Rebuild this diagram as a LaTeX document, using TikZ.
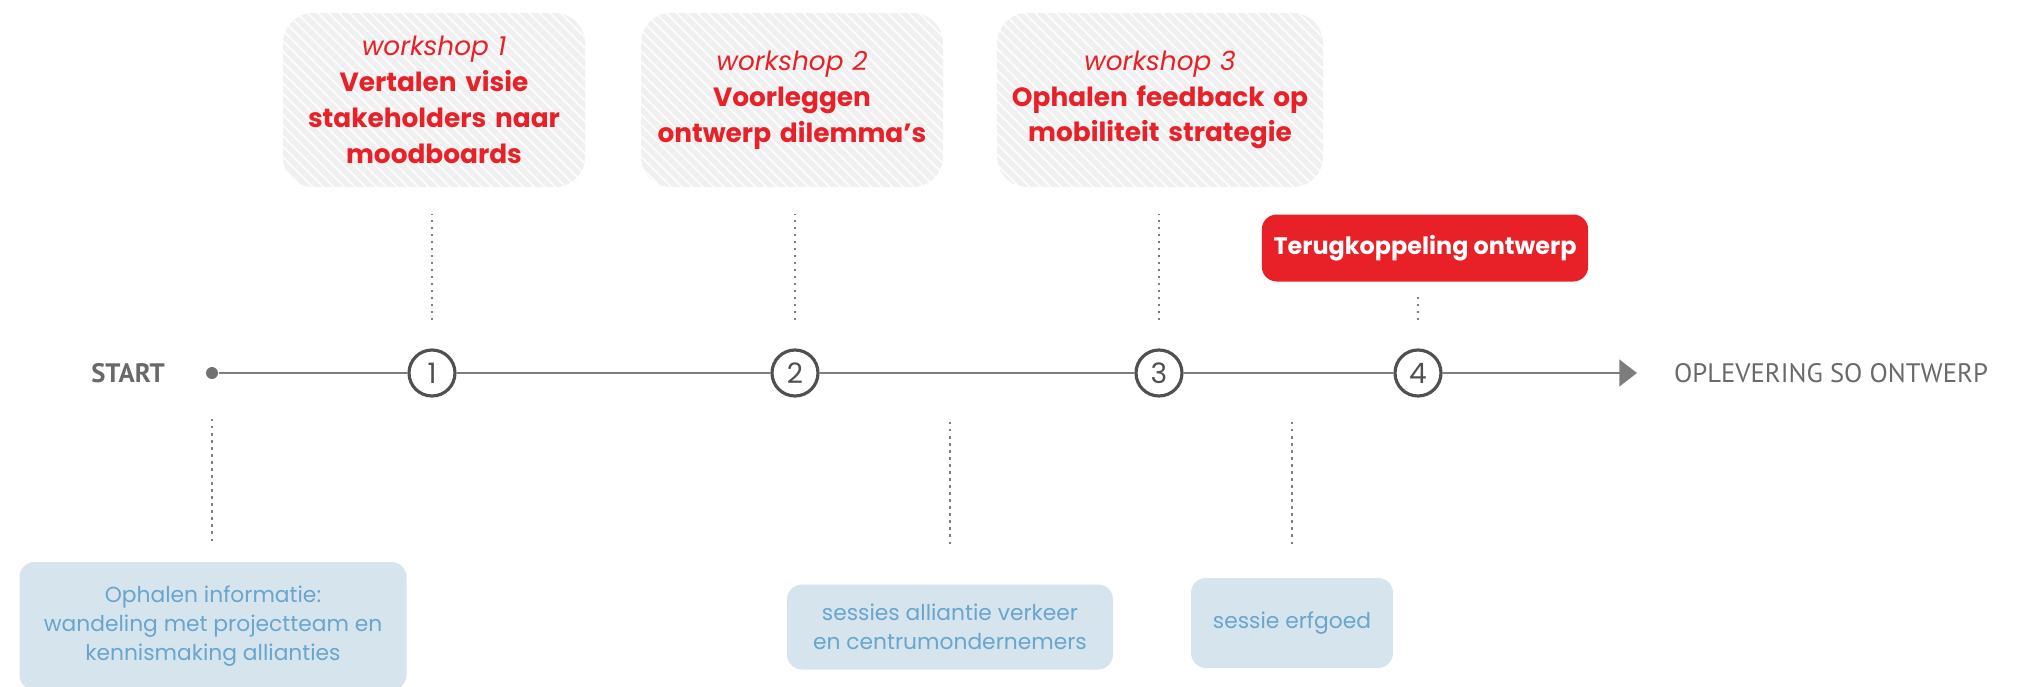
\documentclass[tikz,border=0pt]{standalone}
\usepackage{fontspec}
\setmainfont{Poppins}
\newfontfamily\labelfont{PT Sans}
\usepackage{tikz}
\usetikzlibrary{calc}
\usetikzlibrary{positioning}
\usetikzlibrary{arrows.meta}
\usetikzlibrary{patterns}

\definecolor{wsred}{RGB}{232,32,40}
\definecolor{linegray}{RGB}{125,125,125}
\definecolor{circgray}{RGB}{80,80,80}
\definecolor{txtgray}{RGB}{105,105,105}
\definecolor{boxblue}{RGB}{214,228,237}
\definecolor{txtblue}{RGB}{105,165,204}
\definecolor{hatchgray}{RGB}{240,240,240}

\begin{document}
\begin{tikzpicture}[
    wsbox/.style={rounded corners=0.3cm, preaction={fill=hatchgray}, pattern=north west lines, pattern color=white,
      inner xsep=0.08cm, minimum height=1.74cm, align=center, text=wsred, font=\fontsize{7.5}{10.2}\selectfont\bfseries},
    redbox/.style={rounded corners=0.15cm, fill=wsred, text=white, minimum width=3.25cm, minimum height=0.67cm,
      font=\fontsize{6.8}{10}\selectfont\bfseries},
    bluebox/.style={rounded corners=0.15cm, fill=boxblue, text=txtblue, align=center,
      font=\fontsize{6.2}{8.3}\selectfont},
    stepnum/.style={circle, draw=circgray, line width=0.9pt, fill=white, minimum size=0.46cm, inner sep=0pt,
      text=circgray, font=\fontsize{8}{8}\selectfont},
    endlabel/.style={text=txtgray, font=\labelfont\fontsize{7.6}{8}\selectfont},
    tline/.style={linegray, line width=0.85pt},
    dotline/.style={linegray, line width=0.7pt, dash pattern=on 0.7pt off 1.3pt}
  ]
    \useasboundingbox (0,0) rectangle (20.2,6.86);

    % timeline
    \node[endlabel, font=\labelfont\bfseries\fontsize{7.6}{8}\selectfont] (start) at (1.28,3.13) {START};
    \node[circle, fill=linegray!90!black, minimum size=0.12cm, inner sep=0pt] (dot) at (2.12,3.13) {};
    \node[stepnum] (c1) at (4.32,3.13) {1};
    \node[stepnum] (c2) at (7.95,3.13) {2};
    \node[stepnum] (c3) at (11.59,3.13) {3};
    \node[stepnum] (c4) at (14.18,3.13) {4};
    \coordinate (end) at (16.37,3.13);
    \node[endlabel] (oplevering) at (18.31,3.13) {OPLEVERING SO ONTWERP};

    \draw[tline] (dot) -- (c1) (c1) -- (c2) (c2) -- (c3) (c3) -- (c4);
    \draw[tline, -{Triangle[length=5pt,width=7.5pt]}] (c4) -- (end);

    % workshops
    \node[wsbox, minimum width=3.02cm, text width=2.86cm] (w1) at (4.34,5.86)
      {{\mdseries\itshape workshop 1}\\Vertalen visie\\stakeholders naar\\moodboards};
    \node[wsbox, minimum width=3.02cm, text width=2.86cm] (w2) at (7.92,5.86)
      {{\mdseries\itshape workshop 2}\\Voorleggen\\ontwerp dilemma's\\[10pt]};
    \node[wsbox, minimum width=3.26cm, text width=3.1cm] (w3) at (11.60,5.86)
      {{\mdseries\itshape workshop 3}\\Ophalen feedback op\\mobiliteit strategie\\[10pt]};
    \node[redbox] (terug) at (14.25,4.38) {Terugkoppeling ontwerp};

    % sessies
    \node[bluebox, minimum width=3.87cm, minimum height=1.28cm] (ia) at (2.13,0.60)
      {Ophalen informatie:\\wandeling met projectteam en\\kennismaking allianties};
    \node[bluebox, minimum width=3.26cm, minimum height=0.85cm] (sb) at (9.50,0.59)
      {sessies alliantie verkeer\\en centrumondernemers};
    \node[bluebox, minimum width=2.02cm, minimum height=0.90cm] (sc) at (12.92,0.63)
      {sessie erfgoed};

    % dotted connectors
    \draw[dotline] ($(c1.north)+(0,0.28)$) -- ($(c1.north |- w1.south)+(0,-0.26)$);
    \draw[dotline] ($(c2.north)+(0,0.28)$) -- ($(c2.north |- w2.south)+(0,-0.26)$);
    \draw[dotline] ($(c3.north)+(0,0.28)$) -- ($(c3.north |- w3.south)+(0,-0.26)$);
    \draw[dotline] ($(c4.north)+(0,0.28)$) -- ($(c4.north |- terug.south)+(0,-0.15)$);
    \draw[dotline] ($(dot)+(0,-0.46)$) -- ($(dot |- ia.north)+(0,0.17)$);
    \draw[dotline] ($(sb.north |- c2)+(0,-0.49)$) -- ($(sb.north)+(0,0.40)$);
    \draw[dotline] ($(sc.north |- c3)+(0,-0.49)$) -- ($(sc.north)+(0,0.33)$);
  \end{tikzpicture}
\end{document}
